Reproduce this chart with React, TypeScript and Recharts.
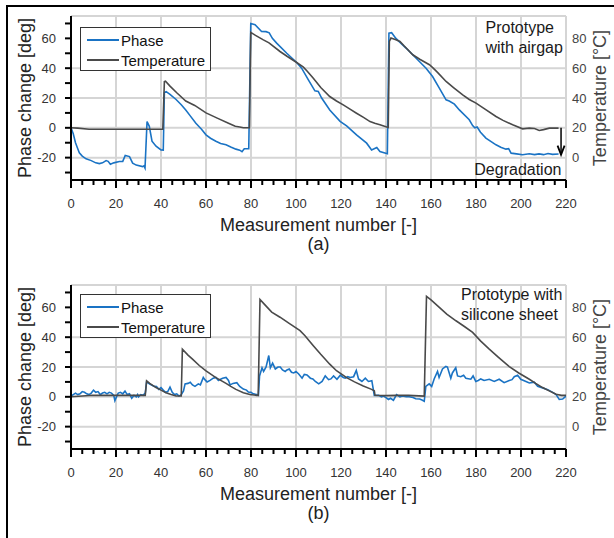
import React from 'react';
import { ComposedChart, Line, XAxis, YAxis, CartesianGrid, ReferenceLine } from 'recharts';

// [measurement number, phase change in deg]
const phaseAirgap: [number, number][] = [
  [0, 0], [1, -4], [2, -10], [3, -14], [3.7, -16.8], [5, -19], [6.7, -20.8], [9, -22], [11, -23.5], [12.6, -24],
  [14, -23.5], [15.6, -22], [16.5, -22.5], [17.5, -24.4], [19, -23.5], [21.5, -22.6], [23, -22.5], [24.1, -18.6],
  [26, -19.3], [27.4, -23.7], [29, -25], [31.8, -26], [32.4, -25.5], [32.9, -27], [33.8, 4.2], [34.8, 1], [36, -9],
  [37.8, -12.3], [40, -14.8], [41, -15], [41.5, 23.7], [42.3, 24.3], [44, 22.5], [46.7, 19], [49, 15.5], [51, 12],
  [53, 8], [55.5, 3], [58, -1], [60, -4.7], [62, -7], [64.4, -9], [66.5, -10.5], [68.9, -11.3], [71, -12.8],
  [73.3, -14.3], [75, -15], [76, -16], [77, -14], [79, -14], [79.9, 70], [81.8, 69.2], [84.7, 64.6], [86.7, 64.5],
  [88.1, 63.7], [89.5, 60], [91.4, 56.8], [95.9, 50], [100.3, 43.8], [102.5, 40], [105.5, 32.2], [108.4, 24.8],
  [109.9, 24.4], [111.4, 20], [115, 12], [119.6, 4.3], [122.5, 1.3], [126.9, -4.7], [131.4, -10.3], [133.6, -14.8],
  [135.9, -13.2], [137.3, -15.9], [140.6, -17.4], [141.3, 63.5], [142.5, 63.8], [144.4, 60], [148.9, 53.5],
  [153.3, 46.8], [157.8, 40], [160.7, 34.4], [163.7, 26.6], [166.7, 18.8], [168.1, 18], [170.4, 15.9], [172.6, 12],
  [177, 5.4], [178.5, 1.5], [179.5, 0], [180.5, 0.5], [182, -3], [184.4, -6.9], [188.9, -11.4], [191, -13],
  [193.3, -14.3], [194.5, -14], [195.6, -17], [198, -17.5], [200.7, -18.1], [203.7, -17.4], [206, -18], [208, -17.5],
  [210, -18], [212, -17.2], [214, -17.8], [216.7, -17.6],
];

// [measurement number, temperature in °C]
const tempAirgap: [number, number][] = [
  [0, 20], [3, 19.8], [8, 19], [20, 19], [30, 19], [40.8, 19], [41.5, 51], [42, 51.3], [44, 48], [47, 43.5],
  [51, 38], [55, 35], [60, 30], [65, 26.5], [70, 23], [73, 21], [75, 20.5], [76.6, 20], [79.3, 20], [79.9, 84],
  [82, 82], [85.5, 79], [88, 77], [92.9, 71.2], [96, 68], [100.3, 63.8], [103.3, 60.7], [105, 58], [107.7, 53.3],
  [111, 47], [115, 41], [118, 38], [121, 35.4], [124, 32.5], [126.9, 29.8], [130, 27], [132.9, 24.2], [135, 23],
  [137.3, 22], [140.3, 20.5], [141, 20.2], [141.5, 78], [142.2, 80.2], [144.4, 79], [146.2, 77.9], [148, 75],
  [151.9, 69], [155, 66], [159.3, 62.3], [161, 60], [163, 57], [166.7, 51.1], [170, 47], [174.1, 42.1], [177, 39],
  [180, 36.6], [184, 32.5], [188.9, 27.6], [192, 25], [196.3, 22], [200.7, 19.3], [203.7, 19.8], [206, 19.5],
  [208.1, 18.2], [210, 18.8], [212.6, 19.8], [216.7, 19.8],
];

const phaseSilicone: [number, number][] = [
  [0, 0.5], [1, 1.5], [2, 2.5], [3, 1.5], [4, 2], [5, 3.5], [6, 3], [7, 2], [8, 1.5], [9, 2.5], [10, 4.5], [11, 3],
  [12, 3.5], [13, 1.5], [14, 2.5], [15, 3], [16, 2], [17, 3], [18, 2.5], [19, 1], [19.5, -2.5], [20.5, 1], [21, 2.5],
  [22, 3], [23, 2], [24, 3.8], [25, 1.5], [26, 2], [27, -1], [28, 1], [29, 0], [29.6, 1.5], [30, 0], [31, 1.5],
  [32, 1], [33, 2.5], [33.6, 10], [35, 8.5], [36, 7.7], [37, 7], [38, 6.9], [39, 5], [40, 6.2], [41, 4.5], [42, 3],
  [43, 3.5], [44, 6.5], [45, 3], [46, 1.5], [47, 2], [48, 0.5], [49, 1.5], [50, 4], [50.7, 8.7], [52, 9], [53, 9.8],
  [54, 8], [55.1, 7], [56.6, 8.7], [57.5, 8], [58.8, 13], [59.5, 11.5], [60.5, 10], [61.8, 11], [63.2, 12.5],
  [64.4, 13], [65.5, 11], [66, 11.5], [67.4, 12.5], [68.9, 13], [70, 11], [70.7, 8], [72, 9], [73.7, 9.5], [75, 7],
  [76.6, 5.2], [78, 4.5], [78.8, 3.2], [80, 3], [81, 2], [82.5, 1.5], [83.3, 1], [83.8, 14], [84.9, 19.5],
  [85.6, 17], [86.7, 20], [87.9, 27.7], [88.6, 19.5], [89.6, 22.6], [90.8, 18.7], [92, 20], [93, 20], [94, 18],
  [95.2, 17], [96, 18], [97, 18.7], [98, 16.5], [99, 16], [100, 17], [101.2, 15.3], [102.7, 12.5], [103.7, 15],
  [104.9, 14.7], [106.4, 12.5], [107.5, 12], [108.6, 10.3], [110.1, 8.7], [111.6, 10.3], [113, 14], [114.5, 11.5],
  [115.5, 12], [116.7, 14], [118.2, 11.8], [119.7, 14.5], [121, 13], [121.9, 12.5], [123, 13.5], [124.1, 13],
  [125.6, 13.5], [126.8, 17.7], [127.8, 12], [129.3, 10.3], [130.8, 12.5], [132.2, 10.3], [133.7, 10.8], [134.8, 1],
  [136.7, 1], [138, 0], [138.9, 0.5], [140, -0.5], [141.1, -1.8], [142, -1], [143.3, -2.3], [144.7, 1.5], [146.2, 0],
  [147.3, 0.5], [149, 0], [150.3, 0], [152, -0.5], [153.2, -1.3], [155, -1.5], [156.2, -2.3], [157, -3], [157.7, 7],
  [159.2, 8.7], [160.3, 7], [161.4, 12], [162.9, 17], [163.6, 13], [165.1, 18.7], [166.6, 20.4], [167.3, 20],
  [168.8, 12.5], [169.5, 16], [171, 19.5], [171.8, 14], [173.2, 13.5], [174.5, 14.5], [175.5, 12.5], [177.7, 11.8],
  [178.7, 14], [179.9, 10.3], [181, 11], [182.1, 12], [183.6, 11], [185.9, 11.8], [188.1, 10.3], [190.3, 11.8],
  [192.5, 9.5], [194.8, 11], [196, 11.5], [197, 13.5], [198.5, 14.5], [199.9, 11.8], [202.2, 10.3], [203.7, 9.3],
  [205.9, 9.8], [207.4, 7], [209.6, 6], [211.9, 4.8], [214.1, 3], [215.6, 1.5], [217, -1.8], [218.5, -1.5],
  [220, 0.5],
];

const tempSilicone: [number, number][] = [
  [0, 20], [5, 20.5], [9.6, 21], [20, 21], [33, 21], [33.6, 30.7], [35, 29], [37.8, 26.2], [40, 24.5],
  [42.2, 22.8], [44.5, 21.5], [46.7, 20.5], [49, 20.5], [49.5, 52], [52, 48], [54, 45.3], [57, 41], [60, 37.4],
  [64.4, 32.9], [68.9, 29], [71, 27], [73.3, 25], [76.6, 22.8], [79.5, 21.5], [82.5, 21], [83.2, 21], [84, 85.3],
  [86, 82], [89.2, 76.8], [92.9, 73.4], [97.3, 68.9], [101.8, 64.4], [104, 61], [107.7, 54.3], [111, 48.5],
  [115, 41.9], [118, 37.5], [122.5, 32.9], [126, 30], [129.9, 27.3], [133.6, 25], [134.8, 24], [135.1, 21],
  [140, 20.8], [144.7, 21], [150, 21], [157, 20.5], [158, 87.4], [160, 85], [163.7, 80], [167, 75.5], [171.1, 71],
  [175, 67], [178.5, 63.2], [182, 57.5], [185.9, 52], [190, 46.5], [194.8, 40.3], [199, 36], [203.7, 31.8],
  [206.5, 29], [209.6, 26.2], [212.5, 24], [215.6, 21.7], [218, 21], [220, 21],
];

const X_TICKS = Array.from({ length: 45 }, (_, i) => i * 5);
const GRID_X = [0, 20, 40, 60, 80, 100, 120, 140, 160, 180, 200, 220];
const GRID_Y = [-20, 0, 20, 40, 60, 75];
const PHASE_TICKS = [-30, -20, -10, 0, 10, 20, 30, 40, 50, 60, 70];
const TEMP_TICKS = [0, 20, 40, 60, 80];
const PHASE_DOMAIN = [-35, 75];
const TEMP_DOMAIN = [-15, 95];

const BLUE = '#1a73c4';
const GRAY = '#4a4a4a';
const FONT = '"Liberation Sans", Arial, Helvetica, sans-serif';

const XTick = (props: any) => {
  const { x, y, payload } = props;
  const major = payload.value % 20 === 0;
  return (
    <g>
      <line x1={x} x2={x} y1={y} y2={y + (major ? 8 : 5)} stroke="#000" strokeWidth={2} />
      {major && (
        <text x={x} y={y + 23} textAnchor="middle" dominantBaseline="central" fontSize={13} fill="#333">
          {payload.value}
        </text>
      )}
    </g>
  );
};

const Arrow = (props: any) => {
  const { x1, y1, x2, y2 } = props;
  return (
    <g>
      <line x1={x1} y1={y1} x2={x2} y2={y2} stroke="#000" strokeWidth={1.5} />
      <path d={`M${x2 - 3.5},${y2 - 9} L${x2},${y2} L${x2 + 3.5},${y2 - 9}`} fill="none" stroke="#000" strokeWidth={1.8} />
    </g>
  );
};

function Panel({ phase, temp, tag, legendTop, notes, arrow }: any) {
  const phaseRows = phase.map(([n, v]: number[]) => ({ n, v }));
  const tempRows = temp.map(([n, v]: number[]) => ({ n, v }));
  return (
    <div style={{ position: 'relative', width: 614, height: 269 }}>
      <ComposedChart width={614} height={269} margin={{ top: 16, right: 0, bottom: 0, left: 0 }}>
        <XAxis xAxisId="grid" type="number" dataKey="n" domain={[0, 220]} ticks={GRID_X} hide height={0} allowDataOverflow />
        <YAxis yAxisId="grid" type="number" domain={PHASE_DOMAIN} ticks={GRID_Y} hide width={0} allowDataOverflow />
        <CartesianGrid xAxisId="grid" yAxisId="grid" stroke="#d5d5d5" strokeWidth={2} />
        <XAxis
          type="number"
          dataKey="n"
          domain={[0, 220]}
          ticks={X_TICKS}
          interval={0}
          allowDataOverflow
          height={89}
          tickSize={0}
          tickMargin={0}
          tickLine={false}
          tick={(p: any) => <XTick {...p} />}
          axisLine={{ stroke: '#000', strokeWidth: 2 }}
          label={(p: any) => {
            const vb = p.viewBox;
            const cx = vb.x + vb.width / 2;
            return (
              <g>
                <text x={cx} y={vb.y + 44.5} textAnchor="middle" dominantBaseline="central" fontSize={18} fill="#222">
                  Measurement number [-]
                </text>
                <text x={cx} y={vb.y + 64} textAnchor="middle" dominantBaseline="central" fontSize={18} fill="#222">
                  {tag}
                </text>
              </g>
            );
          }}
        />
        <YAxis
          yAxisId="phase"
          orientation="left"
          type="number"
          width={71}
          domain={PHASE_DOMAIN}
          ticks={PHASE_TICKS}
          interval={0}
          allowDataOverflow
          tickSize={6}
          tickMargin={9}
          tickLine={{ stroke: '#000', strokeWidth: 2 }}
          axisLine={{ stroke: '#000', strokeWidth: 2 }}
          tick={{ fill: '#333', fontSize: 13 }}
          tickFormatter={(v: number) => (v % 20 === 0 ? String(v) : '')}
          label={(p: any) => {
            const vb = p.viewBox;
            const cy = vb.y + vb.height / 2;
            const cx = vb.x + 25;
            return (
              <text x={cx} y={cy} transform={`rotate(-90 ${cx} ${cy})`} textAnchor="middle" dominantBaseline="central" fontSize={18} fill="#222">
                Phase change [deg]
              </text>
            );
          }}
        />
        <YAxis
          yAxisId="temp"
          orientation="right"
          type="number"
          width={48}
          domain={TEMP_DOMAIN}
          ticks={TEMP_TICKS}
          interval={0}
          allowDataOverflow
          tickSize={0}
          tickMargin={6}
          tickLine={false}
          axisLine={false}
          tick={{ fill: '#444', fontSize: 13 }}
          label={(p: any) => {
            const vb = p.viewBox;
            const cy = vb.y + vb.height / 2;
            const cx = vb.x + 34;
            return (
              <text x={cx} y={cy} transform={`rotate(-90 ${cx} ${cy})`} textAnchor="middle" dominantBaseline="central" fontSize={18} fill="#444">
                Temperature [°C]
              </text>
            );
          }}
        />
        <Line yAxisId="phase" data={phaseRows} dataKey="v" type="linear" stroke={BLUE} strokeWidth={1.6} dot={false} isAnimationActive={false} />
        <Line yAxisId="temp" data={tempRows} dataKey="v" type="linear" stroke={GRAY} strokeWidth={1.6} dot={false} isAnimationActive={false} />
        {arrow && (
          <ReferenceLine
            yAxisId="phase"
            segment={[{ x: 217.8, y: 0 }, { x: 217.8, y: -18 }]}
            shape={(p: any) => <Arrow {...p} />}
          />
        )}
      </ComposedChart>
      <div
        style={{
          position: 'absolute', left: 80, top: legendTop, width: 129, height: 42, border: '1px solid #333',
          background: '#fff', fontSize: 15, color: '#111',
        }}
      >
        {[['Phase', BLUE], ['Temperature', GRAY]].map(([name, c], i) => (
          <div key={name} style={{ position: 'absolute', left: 6, top: 3 + i * 20, height: 18, display: 'flex', alignItems: 'center' }}>
            <span style={{ display: 'inline-block', width: 32, height: 2, background: c, marginRight: 2 }} />
            <span>{name}</span>
          </div>
        ))}
      </div>
      <svg width={614} height={269} style={{ position: 'absolute', left: 0, top: 0, pointerEvents: 'none' }}>
        {notes.map((t: any, i: number) => (
          <text key={i} x={t.x} y={t.y} fontSize={16} fill="#1a1a1a">
            {t.text}
          </text>
        ))}
      </svg>
    </div>
  );
}

export default function App() {
  return (
    <div style={{ position: 'absolute', left: 0, top: 0, width: 614, height: 538, background: '#fff', fontFamily: FONT, overflow: 'hidden' }}>
      <div style={{ position: 'absolute', left: 6, top: 5, right: -10, bottom: -10, borderTop: '2px solid #000', borderLeft: '2px solid #000' }} />
      <div style={{ position: 'absolute', left: 0, top: 0 }}>
        <Panel
          phase={phaseAirgap}
          temp={tempAirgap}
          tag="(a)"
          legendTop={27}
          arrow
          notes={[
            { x: 485.5, y: 33.3, text: 'Prototype' },
            { x: 485.5, y: 52.6, text: 'with airgap' },
            { x: 474.3, y: 175.3, text: 'Degradation' },
          ]}
        />
      </div>
      <div style={{ position: 'absolute', left: 0, top: 269 }}>
        <Panel
          phase={phaseSilicone}
          temp={tempSilicone}
          tag="(b)"
          legendTop={25}
          notes={[
            { x: 461, y: 30.7, text: 'Prototype with' },
            { x: 461, y: 50.5, text: 'silicone sheet' },
          ]}
        />
      </div>
    </div>
  );
}
